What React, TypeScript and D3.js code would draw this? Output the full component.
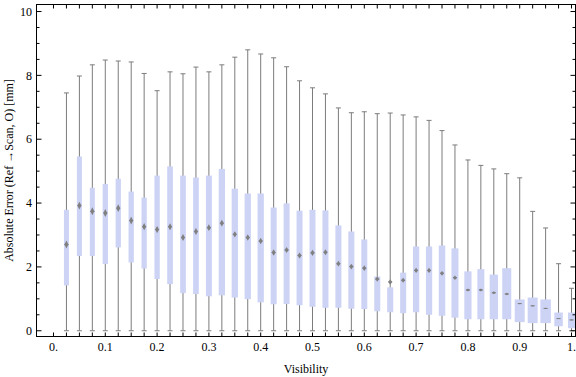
import React from "react";
import * as d3 from "d3";

// Visibility bin centres (x categories)
const visibility = [
  0.025, 0.05, 0.075, 0.1, 0.125, 0.15, 0.175, 0.2, 0.225, 0.25,
  0.275, 0.3, 0.325, 0.35, 0.375, 0.4, 0.425, 0.45, 0.475, 0.5,
  0.525, 0.55, 0.575, 0.6, 0.625, 0.65, 0.675, 0.7, 0.725, 0.75,
  0.775, 0.8, 0.825, 0.85, 0.875, 0.9, 0.925, 0.95, 0.975, 1.0,
];
// Whisker low (minimum)
const minValues = [
  0, 0, 0, 0, 0, 0, 0, 0, 0, 0, 0, 0, 0, 0, 0, 0, 0, 0, 0, 0,
  0, 0, 0, 0, 0, 0, 0, 0, 0, 0, 0, 0, 0, 0, 0, 0, 0, 0, 0, 0,
];
// Lower quartile
const q1Values = [
  1.42, 2.34, 2.34, 2.09, 2.61, 2.14, 1.95, 1.62, 1.46, 1.18,
  1.15, 1.08, 1.11, 1.04, 0.99, 0.89, 0.83, 0.84, 0.8, 0.75,
  0.72, 0.72, 0.69, 0.68, 0.61, 0.58, 0.55, 0.58, 0.5, 0.47,
  0.41, 0.36, 0.36, 0.36, 0.36, 0.27, 0.24, 0.24, 0.14, 0.08,
];
// Centre marker (mean)
const markerValues = [
  2.7, 3.92, 3.74, 3.69, 3.84, 3.45, 3.26, 3.17, 3.26, 2.92,
  3.11, 3.23, 3.37, 3.02, 2.92, 2.81, 2.45, 2.53, 2.36, 2.44,
  2.46, 2.1, 2.01, 1.96, 1.62, 1.53, 1.58, 1.89, 1.89, 1.8,
  1.66, 1.28, 1.28, 1.19, 1.15, 0.85, 0.78, 0.7, 0.38, 0.34,
];
// Confidence half-interval of the marker
const markerCI = [
  0.125, 0.125, 0.125, 0.125, 0.12, 0.12, 0.115, 0.11, 0.11, 0.11,
  0.11, 0.105, 0.105, 0.1, 0.1, 0.1, 0.1, 0.095, 0.095, 0.095,
  0.095, 0.09, 0.09, 0.09, 0.085, 0.085, 0.08, 0.08, 0.08, 0.075,
  0.07, 0.047, 0.047, 0.045, 0.04, 0.02, 0.02, 0.018, 0.015, 0.015,
];
// Upper quartile
const q3Values = [
  3.79, 5.46, 4.48, 4.6, 4.76, 4.36, 4.17, 4.86, 5.15, 4.86,
  4.8, 4.86, 5.07, 4.45, 4.3, 4.3, 3.86, 3.99, 3.76, 3.79,
  3.77, 3.3, 3.11, 2.86, 1.7, 1.36, 1.82, 2.64, 2.64, 2.67,
  2.58, 1.86, 1.93, 1.76, 1.96, 0.98, 1.04, 0.98, 0.57, 0.57,
];
// Whisker high (maximum)
const maxValues = [
  7.45, 7.98, 8.33, 8.48, 8.45, 8.42, 8.06, 7.52, 8.11, 8.05,
  8.26, 8.11, 8.33, 8.57, 8.8, 8.67, 8.55, 8.27, 7.83, 7.61,
  7.42, 6.98, 6.83, 6.86, 6.8, 6.82, 6.76, 6.7, 6.59, 6.27,
  5.82, 5.35, 5.18, 5.07, 4.92, 4.79, 3.74, 3.22, 2.1, 1.33,
];
// Relative bin weight (drives box width)
const binWeights = [
  0.5, 0.5, 0.5, 0.53, 0.53, 0.53, 0.53, 0.53, 0.57, 0.57,
  0.57, 0.6, 0.63, 0.63, 0.63, 0.63, 0.6, 0.6, 0.6, 0.6,
  0.6, 0.6, 0.6, 0.6, 0.6, 0.6, 0.6, 0.62, 0.62, 0.65,
  0.7, 0.72, 0.7, 0.83, 0.9, 1.0, 1.0, 1.05, 0.85, 0.7,
];

const xTickValues = [0, 0.1, 0.2, 0.3, 0.4, 0.5, 0.6, 0.7, 0.8, 0.9, 1.0];
const xTickLabels = ["0.", "0.1", "0.2", "0.3", "0.4", "0.5", "0.6", "0.7", "0.8", "0.9", "1."];
const yTickValues = [0, 2, 4, 6, 8, 10];
const yTickLabels = ["0", "2", "4", "6", "8", "10"];
const yMinorTicks = d3.range(0, 10.01, 0.5);

const W = 576;
const H = 377;
const L = 36.5, R = 575.5, T = 4.5, B = 336.5;

export default function App() {
  const x = d3.scaleLinear().domain([-0.0328, 1.0077]).range([L, R]);
  const y = d3.scaleLinear().domain([-0.18, 10.22]).range([B, T]);
  const wScale = d3.scaleLinear().domain([0, 1]).range([0, 10]);
  const font = "'Liberation Serif', 'Times New Roman', serif";
  const gray = "#7c7c7c";
  const markerColor = "#808080";
  const xTickPositions = [0, ...visibility];

  return (
    <svg width={W} height={H} style={{ position: "absolute", left: 0, top: 0 }} fontFamily={font}>
      <rect x={0} y={0} width={W} height={H} fill="#fff" />
      {/* boxes */}
      {visibility.map((v, i) => {
        const cx = x(v);
        const bw = wScale(binWeights[i]);
        const yMid = y(markerValues[i]);
        const ci = y(markerValues[i] - markerCI[i]) - yMid;
        return (
          <g key={i}>
            <line x1={cx} x2={cx} y1={y(minValues[i])} y2={y(maxValues[i])} stroke={gray} strokeWidth={1} />
            <line x1={cx - 2.5} x2={cx + 2.5} y1={y(minValues[i])} y2={y(minValues[i])} stroke={gray} strokeWidth={1} />
            <line x1={cx - 2.5} x2={cx + 2.5} y1={y(maxValues[i])} y2={y(maxValues[i])} stroke={gray} strokeWidth={1} />
            <rect x={cx - bw / 2} width={bw} y={y(q3Values[i])} height={y(q1Values[i]) - y(q3Values[i])} fill="#cdd3f5" />
            <path
              d={`M${cx},${yMid - ci}L${cx + 2},${yMid}L${cx},${yMid + ci}L${cx - 2},${yMid}Z`}
              fill={markerColor}
            />
            <line x1={cx - 2} x2={cx + 2} y1={yMid} y2={yMid} stroke={markerColor} strokeWidth={1} />
          </g>
        );
      })}
      {/* frame */}
      <rect x={L} y={T} width={R - L} height={B - T} fill="none" stroke="#000" strokeWidth={1} />
      {/* x ticks top and bottom */}
      {xTickPositions.map((v, i) => (
        <g key={"xt" + i}>
          <line x1={x(v)} x2={x(v)} y1={B} y2={B - 4} stroke="#000" />
          <line x1={x(v)} x2={x(v)} y1={T} y2={T + 4} stroke="#000" />
        </g>
      ))}
      {xTickValues.map((v, i) => (
        <text key={"xl" + i} x={x(v)} y={351} fontSize={12} textAnchor="middle" fill="#000">
          {xTickLabels[i]}
        </text>
      ))}
      {/* y ticks */}
      {yMinorTicks.map((v, i) => {
        const major = Math.abs(v % 2) < 1e-6;
        const len = major ? 5 : 3;
        return (
          <g key={"yt" + i}>
            <line x1={L} x2={L + len} y1={y(v)} y2={y(v)} stroke="#000" />
            <line x1={R} x2={R - len} y1={y(v)} y2={y(v)} stroke="#000" />
          </g>
        );
      })}
      {yTickValues.map((v, i) => (
        <text key={"yl" + i} x={32} y={y(v)} dy="0.35em" fontSize={12} textAnchor="end" fill="#000">
          {yTickLabels[i]}
        </text>
      ))}
      <text x={(L + R) / 2} y={373} fontSize={12} textAnchor="middle" fill="#000">Visibility</text>
      <text
        transform={`translate(13,${(T + B) / 2}) rotate(-90)`}
        fontSize={12}
        textAnchor="middle"
        fill="#000"
      >
        Absolute Error (Ref →Scan, O) [mm]
      </text>
    </svg>
  );
}
